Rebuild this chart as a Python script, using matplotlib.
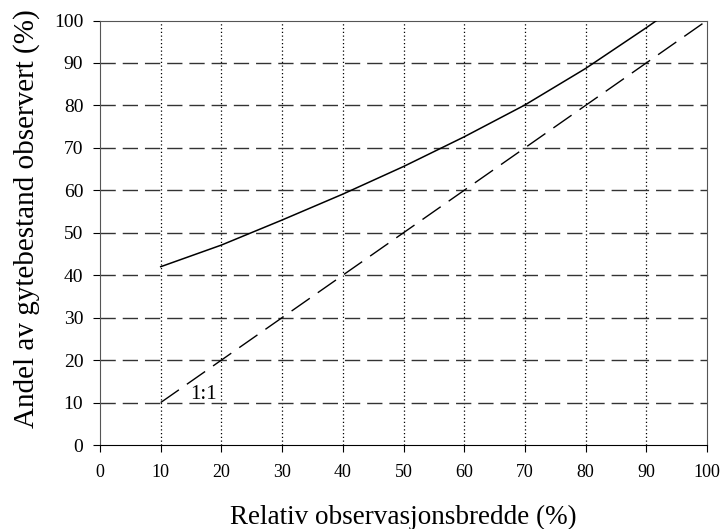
import matplotlib
matplotlib.use('Agg')
import matplotlib.pyplot as plt
import numpy as np

plt.rcParams['font.family'] = ['Liberation Serif', 'DejaVu Serif']

# observert andel (heltrukket kurve)
bredde = [10, 20, 30, 40, 50, 60, 70, 80, 90, 91.7]
andel = [42.0, 47.1, 53.0, 59.1, 65.6, 72.6, 80.1, 88.7, 98.3, 100.0]

# 1:1-linje
en_til_en_x = [10, 100]
en_til_en_y = [10, 100]

x_ticks = np.arange(0, 101, 10)
y_ticks = np.arange(0, 101, 10)

fig = plt.figure(figsize=(7.28, 5.29), dpi=100)
ax = fig.add_axes([100 / 728, 1 - 445 / 529, 607 / 728, 424.5 / 529])

# rutenett
for x in x_ticks[1:-1]:
    ax.axvline(x, color='black', lw=0.9, ls=(0, (1, 2)), zorder=1)
for y in y_ticks[1:-1]:
    ax.axhline(y, color='#333333', lw=1.0, ls=(0, (11, 5)), zorder=1)

ax.plot(bredde, andel, color='black', lw=1.1, zorder=3)
ax.plot(en_til_en_x, en_til_en_y, color='black', lw=1.0, ls=(0, (16, 7)), zorder=3)
ax.text(14.8, 11.8, '1:1', fontsize=15, va='center', ha='left')

ax.set_xlim(0, 100)
ax.set_ylim(0, 100)
ax.set_xticks(x_ticks)
ax.set_yticks(y_ticks)
ax.tick_params(direction='out', length=5, width=0.8)
ax.tick_params(axis='x', labelsize=13, pad=9)
ax.tick_params(axis='y', labelsize=14, pad=7)
for side in ['top', 'right', 'left']:
    ax.spines[side].set_color('#555555')

ax.set_xlabel('Relativ observasjonsbredde (%)', fontsize=19.5)
ax.xaxis.set_label_coords(0.5, -0.142)
ax.set_ylabel('Andel av gytebestand observert (%)', fontsize=21)
ax.yaxis.set_label_coords(-0.099, 0.534)

fig.savefig('out.png', dpi=100)
